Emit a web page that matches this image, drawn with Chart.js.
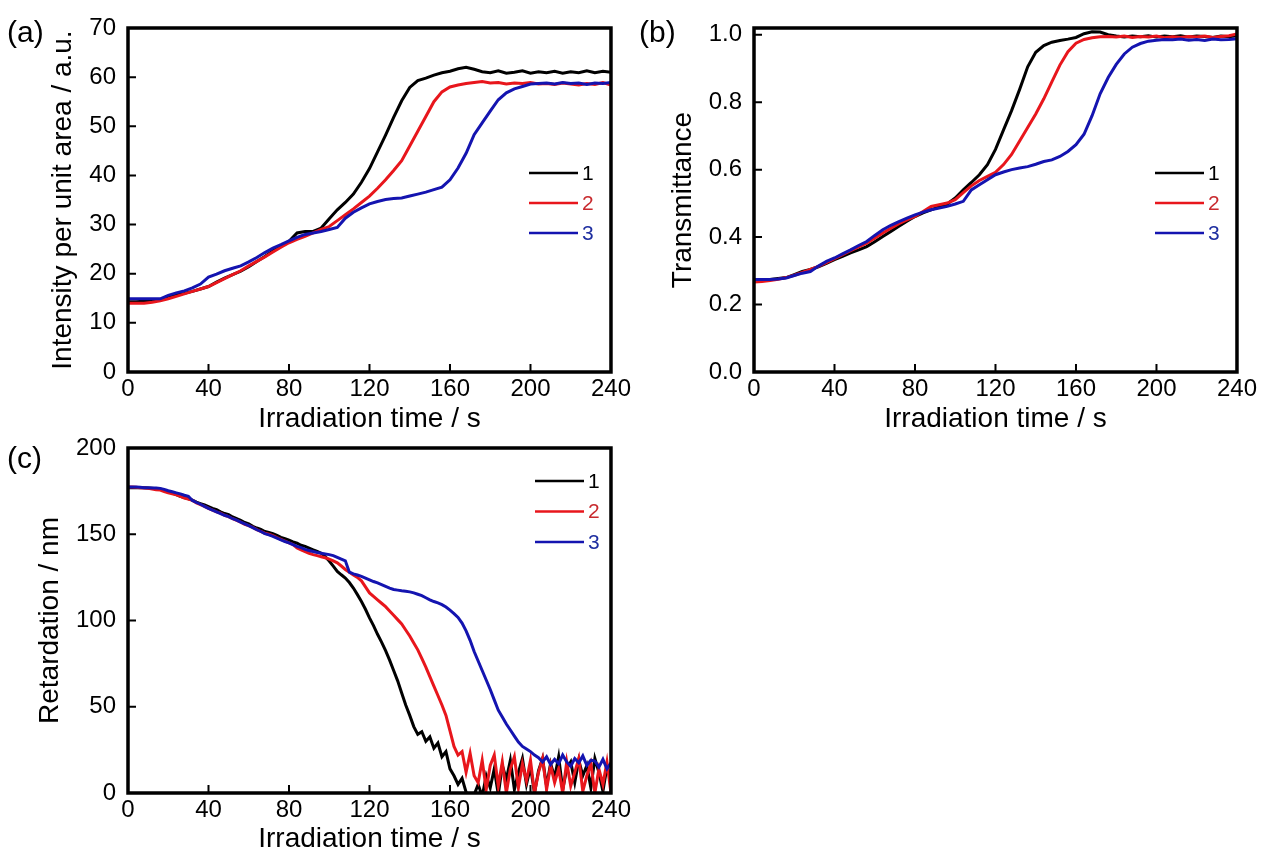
<!DOCTYPE html>
<html>
<head>
<meta charset="utf-8">
<script src="https://cdn.jsdelivr.net/npm/chart.js@4.4.0/dist/chart.umd.min.js"></script>
<style>
  body { margin: 0; background: #fff; overflow: hidden; width: 1269px; height: 852px; }
  canvas { position: absolute; }
</style>
</head>
<body>
<canvas id="chartA" width="634" height="440" style="left:0;top:0"></canvas>
<canvas id="chartB" width="630" height="440" style="left:630px;top:0"></canvas>
<canvas id="chartC" width="634" height="440" style="left:0;top:420px"></canvas>
<script>
// sample names and colours
var seriesNames = ['1', '2', '3'];
var lineColors = ['#000000', '#e8161c', '#1414b0'];
var textColors = ['#000000', '#c82a2e', '#1e2ea0'];

// irradiation time (s)
var timesAB = [0, 4, 8, 12, 16, 20, 24, 28, 32, 36, 40, 44, 48, 52, 56, 60, 64, 68, 72, 76,
    80, 84, 88, 92, 96, 100, 104, 108, 112, 116, 120, 124, 128, 132, 136, 140, 144, 148, 152, 156,
    160, 164, 168, 172, 176, 180, 184, 188, 192, 196, 200, 204, 208, 212, 216, 220, 224, 228, 232, 236, 240];
var timesC = [0, 2, 4, 6, 8, 10, 12, 14, 16, 18, 20, 22, 24, 26, 28, 30, 32, 34, 36, 38,
    40, 42, 44, 46, 48, 50, 52, 54, 56, 58, 60, 62, 64, 66, 68, 70, 72, 74, 76, 78,
    80, 82, 84, 86, 88, 90, 92, 94, 96, 98, 100, 102, 104, 106, 108, 110, 112, 114, 116, 118,
    120, 122, 124, 126, 128, 130, 132, 134, 136, 138, 140, 142, 144, 146, 148, 150, 152, 154, 156, 158,
    160, 162, 164, 166, 168, 170, 172, 174, 176, 178, 180, 182, 184, 186, 188, 190, 192, 194, 196, 198,
    200, 202, 204, 206, 208, 210, 212, 214, 216, 218, 220, 222, 224, 226, 228, 230, 232, 234, 236, 238, 240];

// (a) intensity per unit area / a.u.
var intensity1 = [14.3, 14.3, 14.4, 14.5, 14.7, 15.2, 15.7, 16.0, 16.4, 16.9,
    17.4, 18.3, 19.1, 19.8, 20.5, 21.4, 22.5, 23.5, 24.6, 25.6,
    26.6, 28.3, 28.6, 28.6, 29.3, 31.2, 33.0, 34.5, 36.2, 38.6,
    41.4, 44.8, 48.2, 51.8, 55.2, 57.9, 59.3, 59.8, 60.4, 60.9,
    61.2, 61.7, 62.0, 61.6, 61.1, 60.9, 61.3, 60.8, 61.0, 61.3,
    60.8, 61.1, 60.9, 61.2, 60.8, 61.1, 60.9, 61.3, 60.9, 61.2, 61.0];
var intensity2 = [14.0, 14.0, 14.0, 14.2, 14.5, 14.9, 15.4, 15.9, 16.4, 16.9,
    17.4, 18.2, 19.0, 19.8, 20.6, 21.6, 22.5, 23.4, 24.4, 25.4,
    26.3, 27.0, 27.6, 28.3, 29.0, 29.6, 30.8, 32.0, 33.2, 34.5,
    35.8, 37.4, 39.1, 41.0, 43.0, 46.0, 49.0, 52.0, 55.0, 57.0,
    58.0, 58.4, 58.7, 58.9, 59.1, 58.8, 58.9, 58.6, 58.8, 58.7,
    58.9, 58.6, 58.7, 58.5, 58.8, 58.6, 58.4, 58.7, 58.5, 58.9, 58.4];
var intensity3 = [14.9, 14.9, 14.9, 14.9, 14.9, 15.6, 16.1, 16.5, 17.1, 17.9,
    19.3, 19.9, 20.6, 21.1, 21.6, 22.4, 23.3, 24.3, 25.2, 25.9,
    26.7, 27.4, 28.0, 28.3, 28.6, 29.0, 29.4, 31.3, 32.5, 33.4,
    34.2, 34.7, 35.1, 35.3, 35.4, 35.8, 36.2, 36.6, 37.1, 37.6,
    39.1, 41.5, 44.5, 48.3, 50.7, 53.1, 55.4, 56.8, 57.6, 58.1,
    58.6, 58.7, 58.8, 58.6, 58.9, 58.7, 58.8, 58.5, 58.8, 58.7, 58.9];

// (b) transmittance
var trans1 = [0.274, 0.274, 0.274, 0.277, 0.280, 0.289, 0.298, 0.304, 0.312, 0.322,
    0.333, 0.343, 0.353, 0.362, 0.372, 0.386, 0.402, 0.417, 0.432, 0.447,
    0.461, 0.472, 0.481, 0.490, 0.498, 0.516, 0.540, 0.562, 0.585, 0.615,
    0.660, 0.718, 0.775, 0.838, 0.905, 0.948, 0.968, 0.978, 0.983, 0.987,
    0.992, 1.003, 1.009, 1.008, 1.000, 0.996, 0.993, 0.996, 0.994, 0.997,
    0.993, 0.996, 0.994, 0.997, 0.993, 0.996, 0.995, 0.992, 0.996, 0.994, 0.997];
var trans2 = [0.267, 0.268, 0.271, 0.275, 0.280, 0.287, 0.295, 0.304, 0.313, 0.324,
    0.336, 0.348, 0.360, 0.371, 0.382, 0.397, 0.412, 0.426, 0.440, 0.451,
    0.461, 0.476, 0.491, 0.496, 0.501, 0.511, 0.532, 0.552, 0.568, 0.580,
    0.592, 0.615, 0.645, 0.685, 0.725, 0.765, 0.810, 0.860, 0.910, 0.950,
    0.975, 0.986, 0.991, 0.994, 0.995, 0.993, 0.996, 0.992, 0.995, 0.993,
    0.996, 0.991, 0.994, 0.992, 0.995, 0.993, 0.996, 0.992, 0.995, 0.997, 1.002];
var trans3 = [0.274, 0.274, 0.274, 0.276, 0.279, 0.286, 0.293, 0.298, 0.314, 0.328,
    0.338, 0.350, 0.362, 0.375, 0.387, 0.405, 0.422, 0.435, 0.446, 0.456,
    0.466, 0.474, 0.481, 0.486, 0.491, 0.498, 0.506, 0.540, 0.555, 0.570,
    0.585, 0.593, 0.600, 0.605, 0.609, 0.616, 0.624, 0.629, 0.639, 0.654,
    0.674, 0.705, 0.760, 0.825, 0.873, 0.912, 0.943, 0.963, 0.974, 0.981,
    0.984, 0.986, 0.985, 0.987, 0.984, 0.986, 0.983, 0.987, 0.985, 0.986, 0.988];

// (c) retardation / nm
var retard1 = [177, 177, 177, 177, 177, 176.8, 176.6, 176.4, 176.3, 175.4,
    174.6, 173.8, 173.0, 172.0, 171.2, 170.6, 169.8, 168.6, 167.8, 167.0,
    166.0, 165.0, 164.2, 163.0, 162.0, 161.4, 160.0, 159.0, 158.0, 156.8,
    156.0, 154.6, 153.6, 152.8, 151.6, 151.0, 150.4, 149.4, 148.2, 147.4,
    146.6, 145.6, 144.8, 143.6, 143.0, 142.0, 141.0, 140.0, 139.0, 137.0,
    134.5, 131.5, 128.5, 126.5, 124.6, 122.0, 118.8, 115.0, 111.0, 106.5,
    101.5, 97.0, 92.0, 87.5, 82.5, 77.0, 71.0, 65.0, 58.0, 51.0,
    45.0, 38.5, 34.0, 35.5, 30.0, 32.5, 26.0, 29.0, 21.0, 24.0,
    14.0, 10.0, 5.0, 8.5, 0.5, -3, -1, 5, -2, 10,
    3, 14, -1, 16, 8, 19, 2, 12, 20, 5,
    15, 0, 13, 20, 4, 17, 9, 21, 2, 14,
    18, 6, 19, 10, 16, 3, 20, 12, 1, 15, 8];
var retard2 = [177.4, 177.4, 177.2, 177.0, 176.8, 176.6, 176.2, 175.8, 175.6, 174.8,
    174.0, 173.4, 172.8, 172.0, 171.0, 170.4, 169.6, 168.2, 167.2, 166.2,
    165.0, 164.0, 163.0, 162.2, 161.0, 160.2, 159.0, 158.0, 157.0, 155.8,
    155.0, 154.0, 152.7, 151.6, 150.6, 150.0, 149.2, 148.0, 147.0, 146.0,
    145.0, 144.0, 142.0, 141.0, 140.0, 139.0, 138.2, 137.6, 137.0, 136.4,
    135.6, 134.6, 133.4, 131.6, 129.6, 128.0, 126.4, 125.0, 123.0, 119.5,
    116.0, 114.0, 112.0, 110.0, 108.0, 105.5, 103.0, 100.5, 98.0, 94.5,
    91.0, 87.0, 83.0, 78.0, 73.0, 67.5, 62.0, 56.5, 51.0, 45.0,
    36.0, 27.0, 22.0, 24.0, 12.0, 23.0, 10.0, 6.0, 19.0, 2.0,
    16.0, 22.0, 4.0, 18.0, 0.0, 14.0, 21.0, 3.0, 17.0, 7.0,
    19.0, 0.0, 12.0, 20.0, 2.0, 16.0, 6.0, 14.0, 0.0, 18.0,
    4.0, 12.0, 20.0, 1.0, 10.0, 17.0, 0.0, 14.0, 5.0, 18.0, 0.0];
var retard3 = [177.4, 177.4, 177.4, 177.2, 177.0, 177.0, 176.8, 176.8, 176.6, 176.0,
    175.2, 174.6, 174.0, 173.4, 172.6, 172.0, 169.6, 168.4, 167.4, 166.2,
    165.0, 164.0, 163.0, 162.0, 161.0, 160.2, 159.0, 158.2, 157.0, 156.0,
    155.0, 153.8, 152.6, 151.6, 150.4, 149.6, 148.8, 147.8, 146.8, 145.8,
    145.0, 144.0, 143.0, 142.2, 141.2, 140.6, 140.0, 139.4, 139.0, 138.6,
    138.2, 137.6, 136.6, 135.6, 134.6, 128.0, 127.0, 126.4, 125.6, 124.6,
    123.6, 122.6, 121.8, 120.8, 119.8, 118.8, 118.0, 117.6, 117.2, 117.0,
    116.6, 116.0, 115.2, 114.4, 113.2, 112.0, 111.0, 110.2, 109.2, 107.8,
    106.0, 104.0, 101.8, 98.5, 94.0, 88.5, 82.0, 76.5, 71.0, 65.5,
    60.0, 54.0, 48.0, 44.0, 40.0, 36.5, 33.0, 29.5, 27.0, 25.5,
    24.0, 22.0, 20.5, 18.0, 21.0, 16.5, 19.5, 17.0, 22.0, 18.0,
    15.5, 20.0, 17.5, 21.5, 16.0, 19.0, 18.5, 15.0, 19.5, 14.0, 17.5];

var FONT = "'Liberation Sans', Arial, sans-serif";
Chart.defaults.font.family = FONT;
Chart.defaults.color = '#000';

// frame, inward ticks, panel letter and the small legend
var boxPlugin = {
    id: 'box',
    afterDraw: function (chart, args, opts) {
        var ctx = chart.ctx, area = chart.chartArea;
        var xs = chart.scales.x, ys = chart.scales.y;
        ctx.save();
        ctx.strokeStyle = '#000';
        ctx.lineWidth = 2;
        ctx.beginPath();
        xs.ticks.forEach(function (t) {
            var px = xs.getPixelForValue(t.value);
            ctx.moveTo(px, area.bottom);
            ctx.lineTo(px, area.bottom - 8);
        });
        ys.ticks.forEach(function (t) {
            var py = ys.getPixelForValue(t.value);
            ctx.moveTo(area.left, py);
            ctx.lineTo(area.left + 8, py);
        });
        ctx.stroke();
        ctx.lineWidth = 3.5;
        ctx.strokeRect(area.left, area.top, area.right - area.left, area.bottom - area.top);

        ctx.fillStyle = '#000';
        ctx.textAlign = 'left';
        ctx.textBaseline = 'middle';
        ctx.font = '30px ' + FONT;
        ctx.fillText(opts.letter, opts.letterX, opts.letterY);

        ctx.font = '21px ' + FONT;
        chart.data.datasets.forEach(function (ds, i) {
            var lx = area.left + opts.legendX;
            var ly = area.top + opts.legendY + i * opts.legendGap;
            ctx.strokeStyle = ds.borderColor;
            ctx.lineWidth = 2.5;
            ctx.beginPath();
            ctx.moveTo(lx, ly);
            ctx.lineTo(lx + 49, ly);
            ctx.stroke();
            ctx.fillStyle = ds.textColor;
            ctx.fillText(ds.label, lx + 53, ly + 1);
        });
        ctx.restore();
    }
};

function makeChart(id, times, series, cfg) {
    var ctx = document.getElementById(id).getContext('2d');
    return new Chart(ctx, {
        type: 'line',
        plugins: [boxPlugin],
        data: {
            datasets: series.map(function (vals, i) {
                return {
                    label: seriesNames[i],
                    data: times.map(function (t, j) { return { x: t, y: vals[j] }; }),
                    borderColor: lineColors[i],
                    textColor: textColors[i],
                    borderWidth: 3,
                    pointRadius: 0,
                    tension: 0,
                    order: 3 - i
                };
            })
        },
        options: {
            responsive: false,
            animation: false,
            layout: { padding: { top: 28, right: cfg.padRight, left: 0, bottom: 0 } },
            plugins: {
                legend: { display: false },
                tooltip: { enabled: false },
                box: cfg.box
            },
            scales: {
                x: {
                    type: 'linear',
                    min: 0, max: 240,
                    grid: { display: false, drawTicks: false },
                    border: { display: false },
                    ticks: { stepSize: 40, padding: 3, maxRotation: 0, includeBounds: false, font: { size: 24 } },
                    title: { display: true, text: 'Irradiation time / s', font: { size: 28 }, padding: { top: 0, bottom: 4 } },
                    afterFit: function (s) { s.height = cfg.xHeight; }
                },
                y: {
                    min: cfg.yMin, max: cfg.yMax,
                    grid: { display: false, drawTicks: false },
                    border: { display: false },
                    ticks: { stepSize: cfg.yStep, padding: 12, includeBounds: false, font: { size: 24 }, callback: cfg.yFormat },
                    title: { display: true, text: cfg.yTitle, font: { size: 28 }, padding: { top: cfg.yTitlePad, bottom: 0 } },
                    afterFit: function (s) { s.width = cfg.yWidth; }
                }
            }
        }
    });
}

// PANEL (a)
var chartA = makeChart('chartA', timesAB, [intensity1, intensity2, intensity3], {
    padRight: 14, xHeight: 68, yWidth: 128, yMin: 0, yMax: 70, yStep: 10,
    yTitle: 'Intensity per unit area / a.u.', yTitlePad: 46,
    yFormat: function (v) { return v; },
    box: { letter: '(a)', letterX: 7, letterY: 34, legendX: 401, legendY: 145, legendGap: 30 }
});

// PANEL (b)
var chartB = makeChart('chartB', timesAB, [trans1, trans2, trans3], {
    padRight: 15, xHeight: 68, yWidth: 124, yMin: 0, yMax: 1.02, yStep: 0.2,
    yTitle: 'Transmittance', yTitlePad: 36,
    yFormat: function (v) { return v.toFixed(1); },
    box: { letter: '(b)', letterX: 9, letterY: 34, legendX: 401, legendY: 145, legendGap: 30 }
});

// PANEL (c)
var chartC = makeChart('chartC', timesC, [retard1, retard2, retard3], {
    padRight: 12, xHeight: 67, yWidth: 128, yMin: 0, yMax: 200, yStep: 50,
    yTitle: 'Retardation / nm', yTitlePad: 33,
    yFormat: function (v) { return v; },
    box: { letter: '(c)', letterX: 7, letterY: 40, legendX: 407, legendY: 33, legendGap: 30.5 }
});
</script>
</body>
</html>
